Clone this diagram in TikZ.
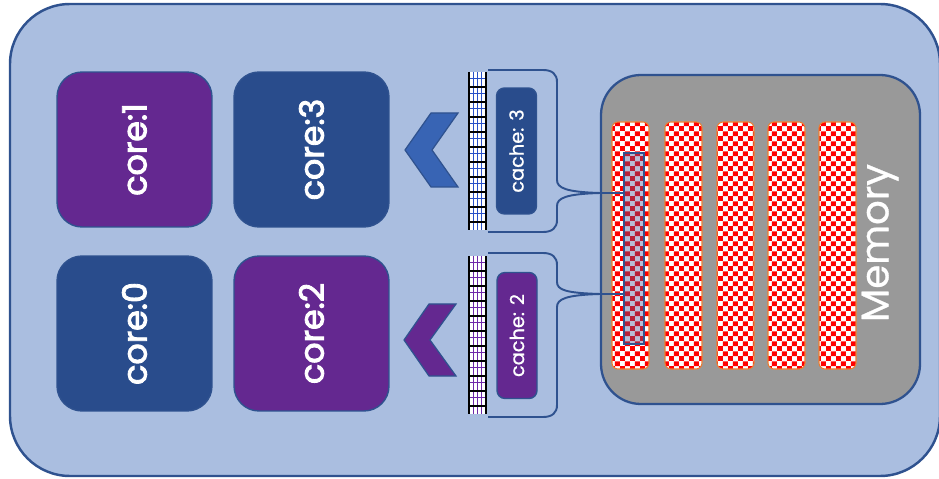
\documentclass[tikz,border=0pt]{standalone}
\usepackage{fontspec}
\newfontfamily\popmed[FakeBold=2.6]{Poppins}
\newfontfamily\poplight[FakeBold=0.8]{Poppins}
\usetikzlibrary{patterns}

\definecolor{bgblue}{RGB}{170,190,224}
\definecolor{edgeblue}{RGB}{47,82,143}
\definecolor{coreblue}{RGB}{41,76,140}
\definecolor{corepurple}{RGB}{100,40,144}
\definecolor{chevblue}{RGB}{56,100,180}
\definecolor{memgray}{RGB}{153,153,153}
\definecolor{stripedge}{RGB}{237,125,49}
\definecolor{hlfill}{RGB}{69,86,150}
\definecolor{tapeblue}{RGB}{40,80,200}
\definecolor{tapepurple}{RGB}{110,40,170}

% red/white checks for the memory banks
\pgfdeclarepatternformonly{memchecks}{\pgfpointorigin}{\pgfqpoint{5.6pt}{5.6pt}}{\pgfqpoint{5.6pt}{5.6pt}}{%
  \pgfpathrectangle{\pgfpointorigin}{\pgfqpoint{2.8pt}{2.8pt}}%
  \pgfpathrectangle{\pgfqpoint{2.8pt}{2.8pt}}{\pgfqpoint{2.8pt}{2.8pt}}%
  \pgfusepath{fill}}

% gridded cache tape: #1 top, #2 bottom, #3 line colour
\newcommand{\cachetape}[3]{%
  \fill[white] (469,#1) rectangle (486,#2);
  \foreach \vx in {473,477,481}
    \draw[#3, line width=0.5pt] (\vx,#1) -- (\vx,#2);
  \foreach \k in {0,...,9}
    \draw[#3, line width=0.5pt] (469,{#1+15*\k+6}) -- (486,{#1+15*\k+6});
  \foreach \k in {1,...,10}
    \draw[black, line width=0.9pt] (469,{#1+15*\k}) -- (486,{#1+15*\k});
  \draw[black, line width=1.2pt] (469,#1) -- (469,#2) (486,#1) -- (486,#2);
}

\begin{document}
\begin{tikzpicture}[x=0.02cm, y=-0.02cm,
  corebox/.style={draw=edgeblue, line width=0.8pt, rounded corners=0.5cm,
    minimum width=3.1cm, minimum height=3.1cm, inner sep=0pt, text=white,
    rotate=90, font=\popmed\fontsize{19}{19}\selectfont},
  cachebox/.style={draw=edgeblue, line width=0.8pt, rounded corners=0.16cm,
    minimum width=2.52cm, minimum height=0.8cm, inner sep=0pt, text=white,
    rotate=90, font=\poplight\fontsize{11}{11}\selectfont},
  chevron/.style={draw=edgeblue, line width=0.7pt, line join=miter},
  membank/.style={preaction={fill=white}, pattern=memchecks, pattern color=red,
    draw=stripedge, line width=0.6pt, rounded corners=0.12cm},
  bracket/.style={draw=edgeblue, line width=1.1pt},
]
\useasboundingbox (0,0) rectangle (939,479);

% enclosing package
\draw[fill=bgblue, draw=edgeblue, line width=1.4pt, rounded corners=1.2cm]
  (10,4) rectangle (940,476);

% cores
\node[corebox, fill=corepurple] (c1) at (134.5,149.5) {core:1};
\node[corebox, fill=coreblue]   (c3) at (311.5,149.5) {core:3};
\node[corebox, fill=coreblue]   (c0) at (134.5,333.5) {core:0};
\node[corebox, fill=corepurple] (c2) at (311.5,333.5) {core:2};

% chevrons pointing at the cores
\draw[chevron, fill=chevblue]
  (458,113) -- (432,150) -- (458,187) -- (431,187) -- (405,150) -- (431,113) -- cycle;
\draw[chevron, fill=corepurple]
  (456,304) -- (430,340) -- (456,376) -- (429,376) -- (404,340) -- (429,304) -- cycle;

% cache tapes
\cachetape{72}{230}{tapeblue}
\cachetape{256}{414}{tapepurple}

% cache labels
\node[cachebox, fill=coreblue]   (k3) at (516.5,151) {cache: 3};
\node[cachebox, fill=corepurple] (k2) at (517,335.5) {cache: 2};

% memory
\draw[fill=memgray, draw=edgeblue, line width=1.3pt, rounded corners=0.8cm]
  (601,75) rectangle (920,404);
\foreach \sx in {612,665,717,768,819}
  \path[membank] (\sx,122) rectangle ++(37,247);
\node[rotate=90, text=white, font=\poplight\fontsize{22}{22}\selectfont]
  (mem) at (880,243) {Memory};

% cached region of memory
\node[draw=edgeblue, line width=1.1pt, fill=hlfill, fill opacity=0.38,
  minimum width=0.4cm, minimum height=3.82cm, inner sep=0pt] (hl) at (634,248.5) {};

% brackets from the caches to the memory region
\coordinate (tip3) at (600,193);
\coordinate (tip2) at (600,294);
\draw[bracket] (488,70) -- (543,70) .. controls (552,70) and (557,74) .. (557,82)
  -- (557,180) .. controls (557,188) and (566,192) .. (tip3)
  .. controls (566,194) and (557,198) .. (557,206)
  -- (557,220) .. controls (557,228) and (552,232) .. (543,232) -- (488,232);
\draw[bracket] (488,253) -- (543,253) .. controls (552,253) and (557,257) .. (557,265)
  -- (557,282) .. controls (557,290) and (566,293) .. (tip2)
  .. controls (566,295) and (557,299) .. (557,307)
  -- (557,405) .. controls (557,413) and (552,417) .. (543,417) -- (488,417);
\draw[bracket] (tip3) -- (tip3 -| hl.west);
\draw[bracket] (tip2) -- (tip2 -| hl.west);
\end{tikzpicture}
\end{document}
